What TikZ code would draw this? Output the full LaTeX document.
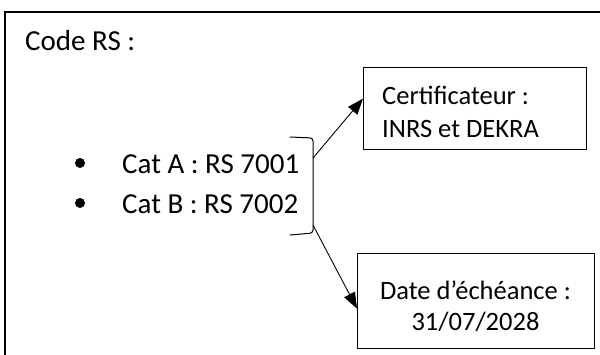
\documentclass[tikz,border=0pt]{standalone}
\usepackage{fontspec}
\setmainfont{Carlito}
\usetikzlibrary{arrows.meta}

\begin{document}
\begin{tikzpicture}[x=1pt,y=-1pt,
    every node/.style={inner sep=0pt,font=\fontsize{29}{33}\selectfont},
    boxtext/.style={font=\fontsize{26.5}{32}\selectfont}]
      \path[use as bounding box,clip] (0,0) rectangle (600,354);
      \draw[line width=1.2pt] (5,12) rectangle (640,400);
      \node (code)[anchor=base west] at (25,50) {Code RS :};
      \begin{scope}[every node/.style={circle,fill,minimum size=10pt,inner sep=0pt}]
        \node (dotA) at (80,163) {};
        \node (dotB) at (80,203) {};
      \end{scope}
      \node (catA)[anchor=base west] at (122,173) {Cat A : RS 7001};
      \node (catB)[anchor=base west] at (122,213) {Cat B : RS 7002};
      \draw[line width=1pt,rounded corners=3pt] (290,137) -- (313,138) -- (313,233) -- (290,235);
      \coordinate (brtop) at (313,158);
      \coordinate (brbot) at (313,225);
      \begin{scope}[every node/.style={draw,line width=1.2pt,anchor=north west,inner sep=0pt}]
        \node (cert)[minimum width=223pt,minimum height=82pt] at (363,67) {};
        \node (date)[minimum width=237pt,minimum height=95pt] at (357,253) {};
      \end{scope}
      \node (certA)[boxtext,anchor=base west] at (382,104.5) {Certificateur :};
      \node (certB)[boxtext,anchor=base west] at (382,137.5) {INRS et DEKRA};
      \node (dateA)[boxtext,anchor=base] at (475.5,299) {Date d’échéance :};
      \node (dateB)[boxtext,anchor=base] at (475.5,330) {31/07/2028};
      \begin{scope}
        [every edge/.style={draw,line width=0.9pt,-{Triangle[length=16pt,width=12pt]}}]
        \path (brtop) edge ([yshift=10pt]cert.west);
        \path (brbot) edge ([yshift=-7.5pt]date.west);
      \end{scope}
    \end{tikzpicture}
\end{document}
